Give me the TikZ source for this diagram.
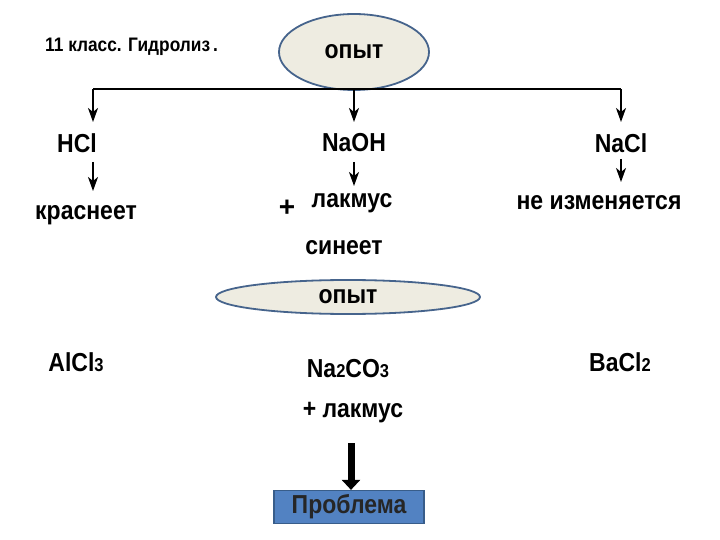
\documentclass[tikz,border=0pt]{standalone}
\usepackage{fontspec}
\usepackage{graphicx}
\setmainfont{Liberation Sans}
\usetikzlibrary{arrows.meta,shapes.geometric}
\definecolor{ellfill}{HTML}{EEECE1}
\definecolor{elldraw}{HTML}{46648C}
\definecolor{boxfill}{HTML}{5282C2}
\definecolor{boxdraw}{HTML}{385D8A}
\tikzset{
  txt/.style={font=\fontsize{23}{26}\selectfont\bfseries, inner sep=0pt},
  sm/.style={font=\fontsize{17.3}{20}\selectfont\bfseries, inner sep=0pt},
  oval/.style={ellipse, draw=elldraw, line width=1.8pt, fill=ellfill, font=\fontsize{23}{26}\selectfont\bfseries, inner sep=0pt},
  arr/.style={line width=1.8pt, -{Stealth[length=14pt,width=10pt,inset=4pt]}},
  bigarr/.style={line width=7pt, -{Triangle[length=10pt,width=18pt]}},
  lin/.style={line width=1.8pt}
}
\newcommand{\dg}[1]{{\fontsize{16.5}{19}\selectfont #1}}
\newcommand{\tall}[1]{\scalebox{1}[1.13]{#1}}
\begin{document}
\begin{tikzpicture}[x=1pt,y=-1pt]
\useasboundingbox (0,0) rectangle (720,540);
\node[sm, anchor=west] (title) at (45,47) {\tall{11 класс. Гидролиз\,.}};
\node[oval, minimum width=150pt, minimum height=76pt] (op1) at (354,52) {\tall{опыт}};
\coordinate (L) at (93,89);
\coordinate (M) at (354,89);
\coordinate (R) at (621,89);
\draw[lin] (L) -- (R);
\coordinate (La) at (93,122);
\coordinate (Ma) at (354,122);
\coordinate (Ra) at (621,122);
\draw[arr] (L) -- (La);
\draw[arr] (M) -- (Ma);
\draw[arr] (R) -- (Ra);
\node[txt] (hcl) at (77,143) {\tall{HCl}};
\node[txt] (naoh) at (354,143) {\tall{NaOH}};
\node[txt] (nacl) at (621,143) {\tall{NaCl}};
\coordinate (h1) at (93,162);
\coordinate (h2) at (93,191);
\coordinate (n1) at (354,162);
\coordinate (n2) at (354,186);
\coordinate (c1) at (621,159);
\coordinate (c2) at (621,182);
\draw[arr] (h1) -- (h2);
\draw[arr] (n1) -- (n2);
\draw[arr] (c1) -- (c2);
\node[txt] (kr) at (86,215) {\tall{краснеет}};
\node[font=\fontsize{28}{30}\selectfont\bfseries, inner sep=0pt] (plus) at (287,208) {+};
\node[txt] (lak) at (352,203) {\tall{лакмус}};
\node[txt] (ne) at (599,203) {\tall{не изменяется}};
\node[txt] (sin) at (344,248) {\tall{синеет}};
\node[oval, minimum width=264pt, minimum height=34pt] (op2) at (348,297) {\tall{опыт}};
\node[txt] (al) at (76,362) {\tall{AlCl\dg{3}}};
\node[txt] (na) at (348,369) {\tall{Na\dg{2}CO\dg{3}}};
\node[txt] (ba) at (620,362) {\tall{BaCl\dg{2}}};
\node[txt] (lak2) at (353,413) {\tall{+ лакмус}};
\node[rectangle, draw=boxdraw, line width=1.2pt, fill=boxfill, minimum width=150pt, minimum height=33pt, txt, text=black!85] (pr) at (349,507) {\tall{Проблема}};
\coordinate (b1) at (351,443);
\draw[bigarr] (b1) -- (b1 |- pr.north);
\end{tikzpicture}
\end{document}
